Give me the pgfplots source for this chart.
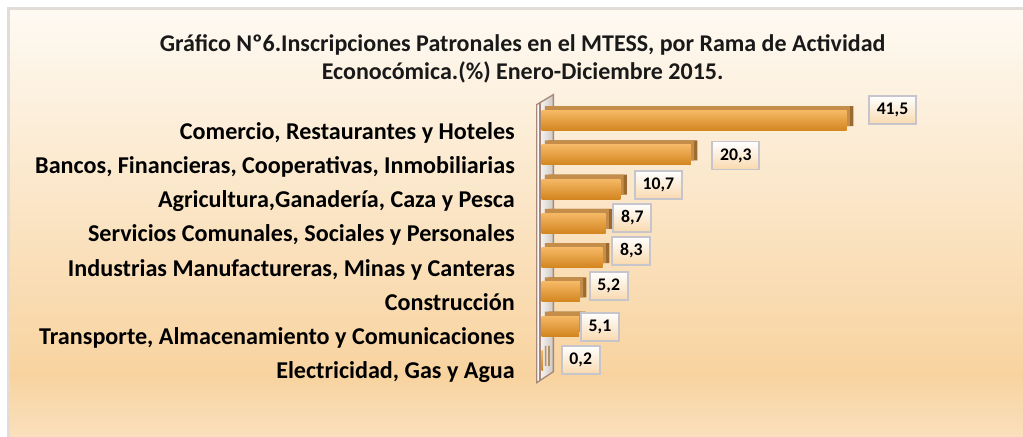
\documentclass[border=0pt]{standalone}
\usepackage{pgfplots}
\pgfplotsset{compat=1.18}
\usepackage{pgfplotstable}
\usepackage{fontspec}
\setmainfont{Carlito}
\definecolor{bgtop}{HTML}{FEFAF3}
\definecolor{bgmid}{HTML}{F8D39F}
\definecolor{bgbot}{HTML}{FAE0BE}
\definecolor{framec}{HTML}{E2DCD8}
\definecolor{bartop}{HTML}{F5B865}
\definecolor{barbot}{HTML}{D3851F}
\definecolor{barside}{HTML}{9C6A2F}
\definecolor{bartopface}{HTML}{C48D4A}
\definecolor{boxdraw}{HTML}{C5C5CB}
\definecolor{boxbot}{HTML}{F9D9AE}
\definecolor{wallc}{HTML}{A88878}
\definecolor{wallg}{HTML}{CFC8C2}

\pgfplotstableread{
y v
0 41.5
1 20.3
2 10.7
3 8.7
4 8.3
5 5.2
6 5.1
7 0.2
}\bars

\pgfplotstableread{
x y lab
47.73 -0.31 41,5
26.41 1.017 20,3
15.86 1.878 10,7
12.33 2.837 8,7
12.19 3.798 8,3
9.12 4.829 5,2
7.93 6.027 5,1
5.31 7.0 0,2
}\labs

\begin{document}
\begin{tikzpicture}
\path[use as bounding box] (0,0) rectangle (767.25pt,327pt);
% background
\fill[white] (0,0) rectangle (767.25pt,327pt);
\shade[top color=bgtop, bottom color=bgmid] (6.4pt,45.75pt) rectangle (768pt,320.6pt);
\shade[top color=bgmid, bottom color=bgbot] (6.4pt,-1pt) rectangle (768pt,45.76pt);
\draw[framec, line width=1.6pt] (6.4pt,-1pt) -- (6.4pt,320.6pt) -- (768pt,320.6pt);
% title
\node[anchor=base, font=\fontsize{18pt}{21pt}\selectfont\bfseries, text=black!90] at (392pt,288.2pt) {Gráfico Nº6.Inscripciones Patronales en el MTESS, por Rama de Actividad};
\node[anchor=base, font=\fontsize{18pt}{21pt}\selectfont\bfseries, text=black!90] at (392pt,267.4pt) {Econocómica.(\%) Enero-Diciembre 2015.};
% wall
\shade[left color=white, right color=wallg, draw=wallc, line width=1pt]
  (402.5pt,248.5pt) -- (415pt,256pt) -- (415pt,48.2pt) -- (402.5pt,40pt) -- cycle;
\draw[wallc, line width=0.8pt] (405pt,250pt) -- (405pt,41.5pt);
\begin{axis}[
  at={(406.3pt,43.95pt)}, anchor=south west,
  scale only axis, width=275.6pt, height=205.4pt,
  xmin=0, xmax=50, ymin=-0.5, ymax=7.5, y dir=reverse,
  axis line style={draw=none},
  xtick=\empty,
  ytick={0,...,7},
  yticklabels={{Comercio, Restaurantes y Hoteles},{Bancos, Financieras, Cooperativas, Inmobiliarias},{Agricultura,Ganadería, Caza y Pesca},{Servicios Comunales, Sociales y Personales},{Industrias Manufactureras, Minas y Canteras},{Construcción},{Transporte, Almacenamiento y Comunicaciones},{Electricidad, Gas y Agua}},
  major tick length=0pt,
  yticklabel style={anchor=base east, inner sep=0pt, xshift=-20pt, yshift=-13.9pt, font=\fontsize{18.1pt}{21pt}\selectfont\bfseries},
  clip=false,
  front/.style={xbar, bar shift=0pt, bar width=15pt, draw=none, top color=bartop, bottom color=barbot},
]
\addplot[xbar, bar shift=0pt, bar width=15pt, draw=none, fill=barside, xshift=4.9pt, yshift=3.4pt] table[x=v, y=y] {\bars};
\addplot[xbar, bar shift=0pt, bar width=15pt, draw=none, fill=bartopface, xshift=2.4pt, yshift=3.4pt] table[x=v, y=y] {\bars};
\addplot[front] coordinates {(41.5,0)};
\addplot[front] coordinates {(20.3,1)};
\addplot[front] coordinates {(10.7,2)};
\addplot[front] coordinates {(8.7,3)};
\addplot[front] coordinates {(8.3,4)};
\addplot[front] coordinates {(5.2,5)};
\addplot[front] coordinates {(5.1,6)};
\addplot[front] coordinates {(0.2,7)};
\addplot[only marks, mark=*, mark size=0pt, mark options={draw=none, fill=none},
  point meta=explicit symbolic, nodes near coords, nodes near coords align={center},
  every node near coord/.append style={anchor=center, font=\fontsize{13.3pt}{15pt}\selectfont\bfseries, text=black,
    draw=boxdraw, line width=1.4pt, top color=white, bottom color=boxbot, inner xsep=5.8pt, minimum height=21pt}]
  table[x=x, y=y, meta=lab] {\labs};
\end{axis}
\end{tikzpicture}
\end{document}
